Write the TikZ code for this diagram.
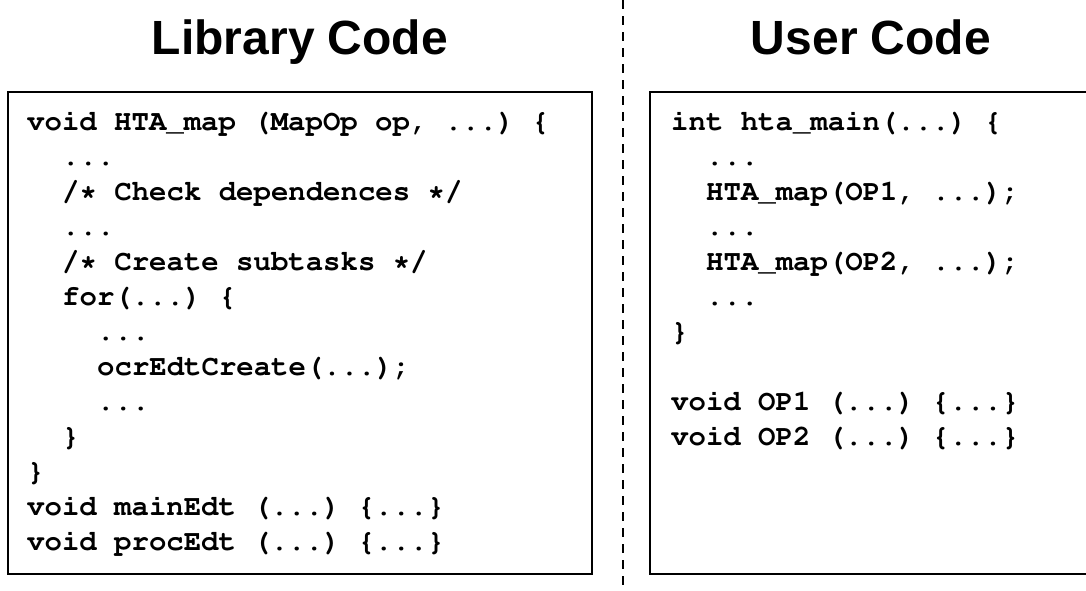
\documentclass[tikz,border=0pt]{standalone}
\usepackage[T1]{fontenc}
\usepackage{fontspec}
\setmainfont{Liberation Sans}
\newcommand\codefont{\fontencoding{T1}\fontfamily{pcr}\selectfont\frenchspacing}
\usepackage{tikz}

\tikzset{
	headline/.style={anchor=base, inner sep=0pt, font=\fontsize{48}{52}\selectfont\bfseries},
	codeline/.style={anchor=base west, inner sep=0pt, font=\codefont\fontsize{29}{34}\selectfont\bfseries},
	codebox/.style={draw, line width=2.7pt}
}

\begin{document}
\begin{tikzpicture}[x=1pt,y=-1pt]
	\clip (0,0) rectangle (1086,590);
	\fill[white] (0,0) rectangle (1086,590);
	
	% titles
	\node[headline] (libtitle) at (300,54) {Library Code};
	\node[headline] (usertitle) at (871,54) {User Code};
	
	% separator
	\draw[line width=2pt, dash pattern=on 9pt off 7pt] (623,0) -- (623,590);
	
	% boxes
	\draw[codebox] (8,92) rectangle (592,574);
	\draw[codebox] (650,92) rectangle (1100,574);
	
	% library code
	\node[codeline] (l0) at (27,130) {void HTA\_map (MapOp op, ...) \{};
	\node[codeline] (l1) at (62,165) {...};
	\node[codeline] (l2) at (62,200) {/* Check dependences */};
	\node[codeline] (l3) at (62,235) {...};
	\node[codeline] (l4) at (62,270) {/* Create subtasks */};
	\node[codeline] (l5) at (62,305) {for(...) \{};
	\node[codeline] (l6) at (97,340) {...};
	\node[codeline] (l7) at (97,375) {ocrEdtCreate(...);};
	\node[codeline] (l8) at (97,410) {...};
	\node[codeline] (l9) at (62,445) {\}};
	\node[codeline] (l10) at (27,480) {\}};
	\node[codeline] (l11) at (27,515) {void mainEdt (...) \{...\}};
	\node[codeline] (l12) at (27,550) {void procEdt (...) \{...\}};
	
	% user code
	\node[codeline] (u0) at (671,130) {int hta\_main(...) \{};
	\node[codeline] (u1) at (706,165) {...};
	\node[codeline] (u2) at (706,200) {HTA\_map(OP1, ...);};
	\node[codeline] (u3) at (706,235) {...};
	\node[codeline] (u4) at (706,270) {HTA\_map(OP2, ...);};
	\node[codeline] (u5) at (706,305) {...};
	\node[codeline] (u6) at (671,340) {\}};
	\node[codeline] (u8) at (671,410) {void OP1 (...) \{...\}};
	\node[codeline] (u9) at (671,445) {void OP2 (...) \{...\}};
\end{tikzpicture}
\end{document}
